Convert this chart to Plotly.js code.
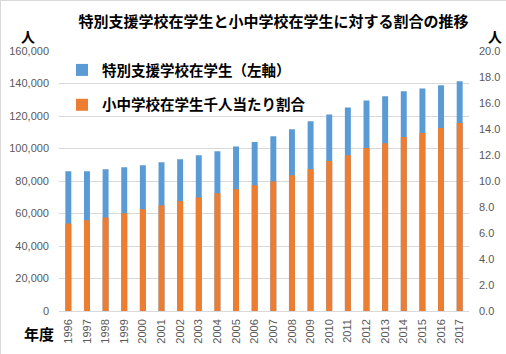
<!DOCTYPE html>
<html>
<head>
<meta charset="utf-8">
<script src="https://cdn.plot.ly/plotly-3.0.1.min.js"></script>
<style>
html,body{margin:0;padding:0;background:#fff;}
#chart{width:506px;height:354px;}
</style>
</head>
<body>
<div id="chart"></div>
<script>
const years = ["1996","1997","1998","1999","2000","2001","2002","2003","2004","2005","2006","2007","2008","2009","2010","2011","2012","2013","2014","2015","2016","2017"];
const students = [86000,86000,87200,88400,89700,91500,93400,95800,98300,101300,104000,107500,111800,116700,121000,125300,129600,132100,135200,137000,138900,141400];
const ratio = [6.73,6.98,7.19,7.52,7.83,8.12,8.45,8.73,9.06,9.37,9.67,9.97,10.45,10.91,11.53,11.99,12.53,12.91,13.38,13.69,14.07,14.46];
const leftTicks = [0,20000,40000,60000,80000,100000,120000,140000,160000];
const rightTicks = [0,2,4,6,8,10,12,14,16,18,20];

const cjk = '"Noto Sans CJK JP", "Noto Sans", sans-serif';
const num = '"Liberation Sans", Arial, sans-serif';
const tickFont = {family: num, size: 11, color: '#595959'};

const L = 59, R = 37, T = 51, B = 43, W = 506, H = 354;
const pw = W - L - R, ph = H - T - B;
const px = x => (x - L) / pw;
const py = y => (H - B - y) / ph;

const data = [
  {type: 'bar', x: years, y: students, name: '特別支援学校在学生（左軸）',
   marker: {color: '#5b9bd5'}, width: 0.32, yaxis: 'y', legendgroup: 'a'},
  {type: 'bar', x: years, y: ratio, name: '小中学校在学生千人当たり割合',
   marker: {color: '#ed7d31'}, width: 0.32, yaxis: 'y2', legendgroup: 'b'}
];

const layout = {
  width: W, height: H,
  margin: {l: L, r: R, t: T, b: B, pad: 0},
  paper_bgcolor: '#fff', plot_bgcolor: '#fff',
  barmode: 'overlay',
  title: {text: '特別支援学校在学生と小中学校在学生に対する割合の推移',
          font: {family: cjk, size: 15, color: '#000', weight: 'bold'},
          x: px(273.5), xref: 'paper', xanchor: 'center', y: 1 - 21.5 / H, yanchor: 'middle'},
  xaxis: {type: 'category', tickangle: -90, tickfont: tickFont, showgrid: false,
          showline: false, zeroline: false, ticks: '', ticklabelstandoff: 5, fixedrange: true},
  yaxis: {range: [0, 160000], tickvals: leftTicks, tickformat: ',d', tickfont: tickFont,
          gridcolor: '#d9d9d9', gridwidth: 1, zeroline: true, zerolinecolor: '#d9d9d9',
          showline: false, ticks: '', ticklabelstandoff: 9},
  yaxis2: {range: [0, 20], tickvals: rightTicks, tickformat: '.1f', tickfont: tickFont,
           overlaying: 'y', side: 'right', showgrid: false, zeroline: false,
           showline: false, ticks: '', ticklabelstandoff: 9},
  showlegend: true,
  legend: {x: px(62), y: py(54), xanchor: 'left', yanchor: 'top',
           traceorder: 'grouped', tracegroupgap: 13, bgcolor: 'rgba(0,0,0,0)',
           font: {family: cjk, size: 14.5, color: '#000', weight: 'bold'}},
  annotations: [
    {text: '人', xref: 'paper', yref: 'paper', x: px(28), y: py(35.5), showarrow: false,
     xanchor: 'center', yanchor: 'middle', font: {family: cjk, size: 14, color: '#000', weight: 'bold'}},
    {text: '人', xref: 'paper', yref: 'paper', x: px(495), y: py(35.5), showarrow: false,
     xanchor: 'center', yanchor: 'middle', font: {family: cjk, size: 14, color: '#000', weight: 'bold'}},
    {text: '年度', xref: 'paper', yref: 'paper', x: px(38.5), y: py(333), showarrow: false,
     xanchor: 'center', yanchor: 'middle', font: {family: cjk, size: 15, color: '#000', weight: 'bold'}}
  ],
  shapes: [
    {type: 'line', xref: 'paper', yref: 'paper', x0: px(0.5), x1: px(0.5), y0: py(0), y1: py(354),
     line: {color: '#d9d9d9', width: 1}},
    {type: 'line', xref: 'paper', yref: 'paper', x0: px(0), x1: px(506), y0: py(0.5), y1: py(0.5),
     line: {color: '#d9d9d9', width: 1}}
  ]
};

Plotly.newPlot('chart', data, layout, {staticPlot: true, displayModeBar: false});
</script>
</body>
</html>
